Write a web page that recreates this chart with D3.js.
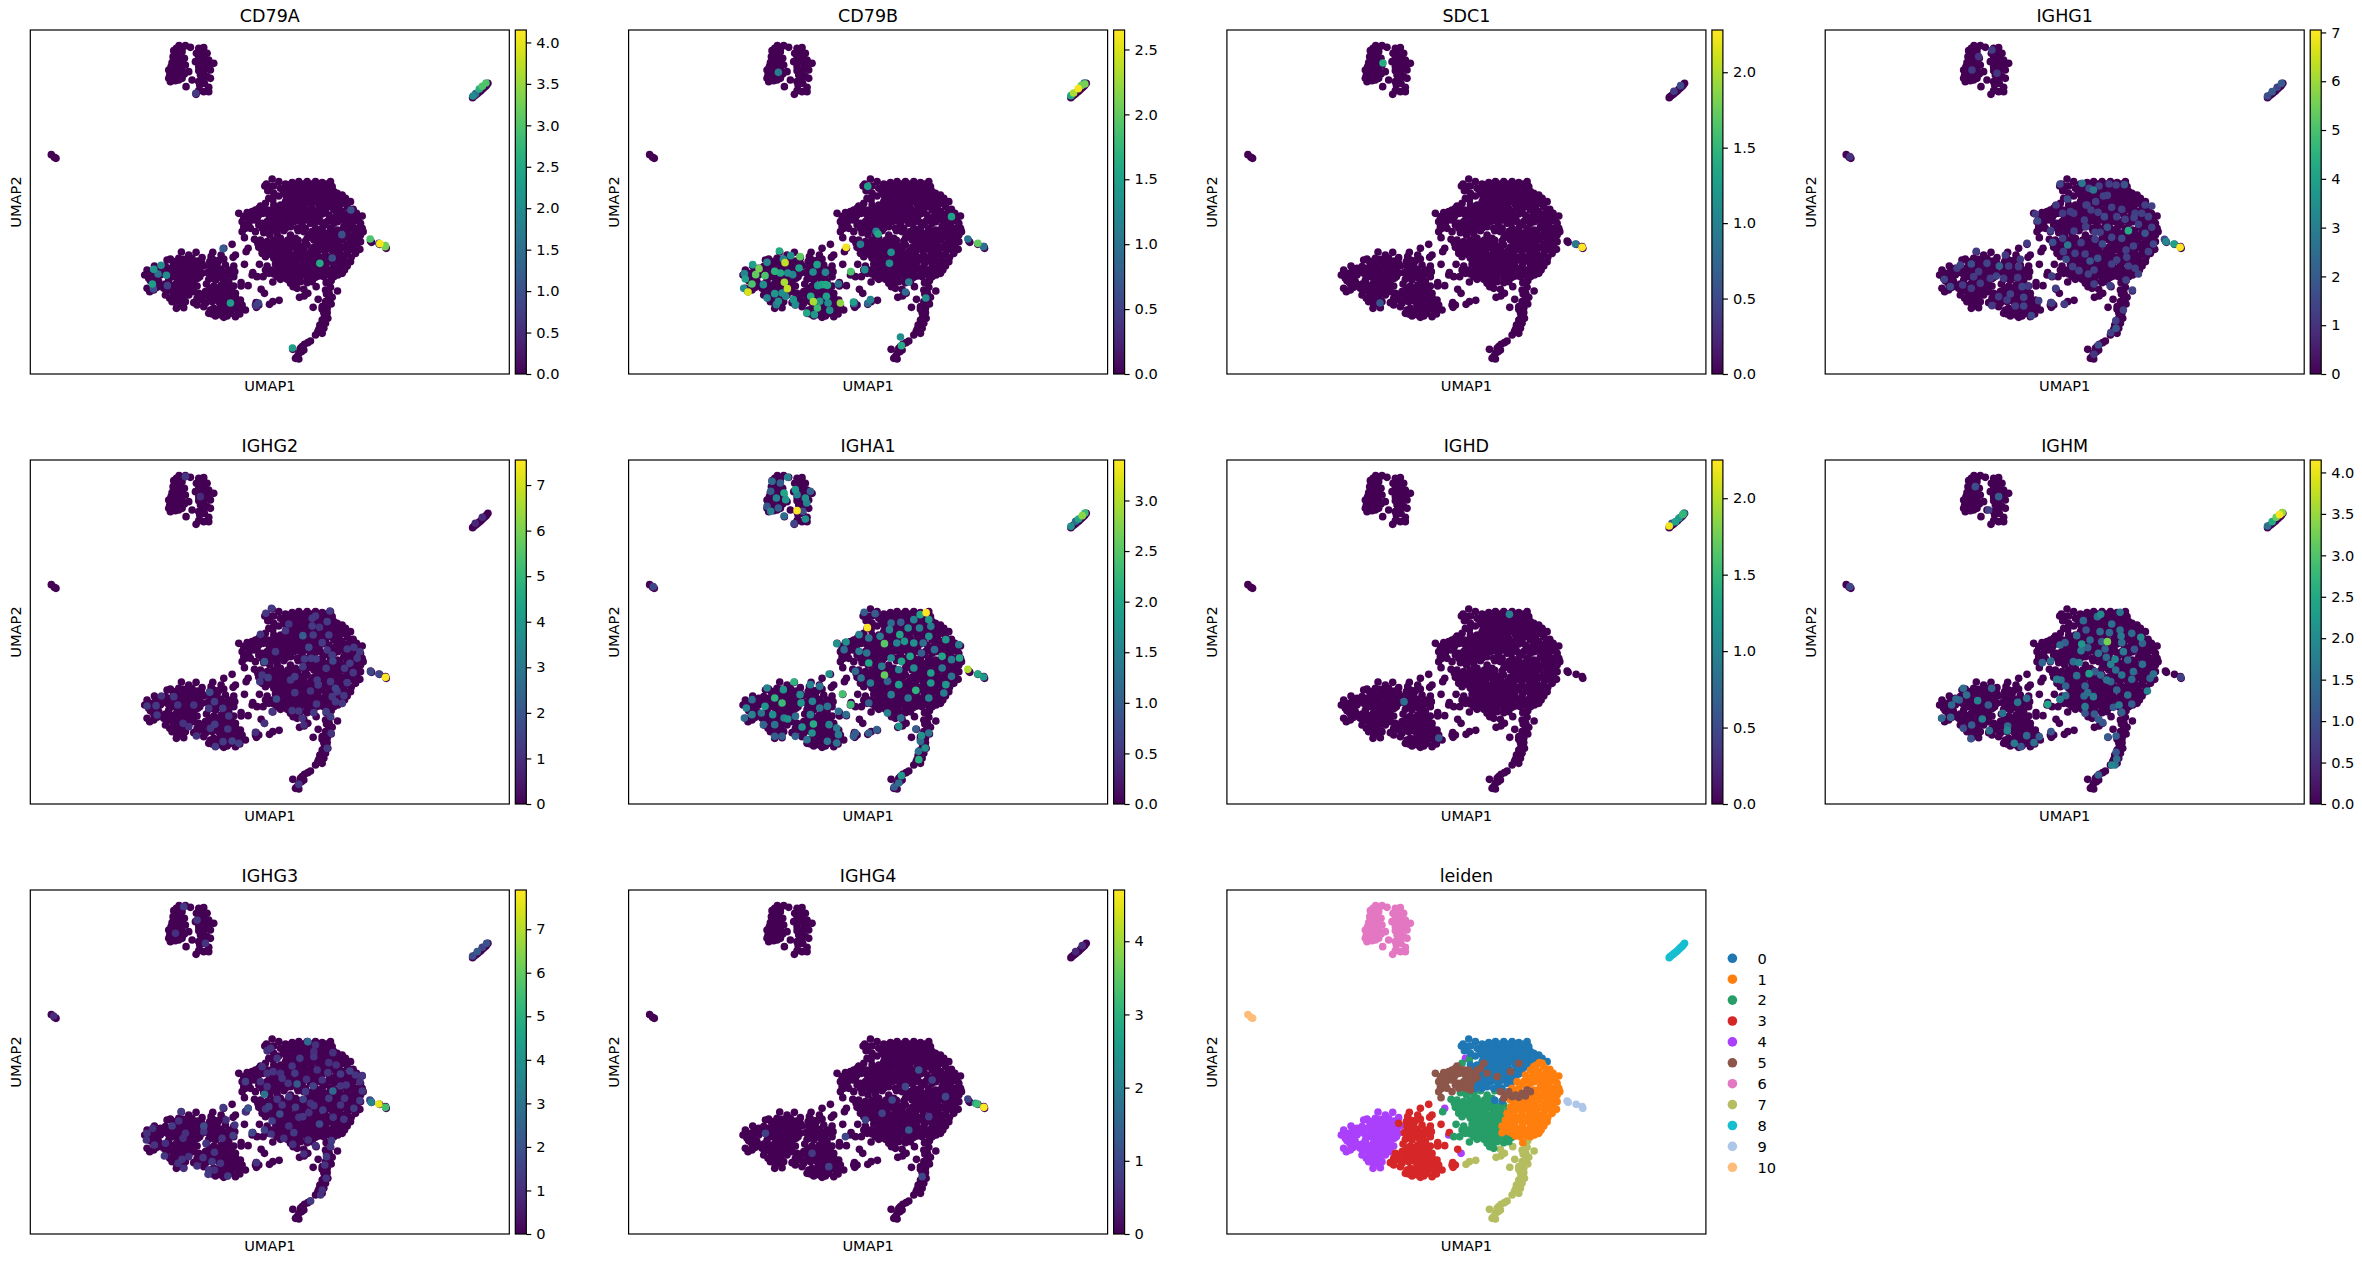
<!DOCTYPE html>
<html>
<head>
<meta charset="utf-8">
<script src="https://d3js.org/d3.v7.min.js"></script>
<style>
    body { margin: 0; background: #fff; }
    text { font-family: "DejaVu Sans", sans-serif; fill: #000; }
</style>
</head>
<body>
<script>
// umap positions, one array per cluster
var cluster0 = [[415,57],[398,72],[435,65],[393,78],[410,80],[420,78],[402,92],[420,100],[455,72],[475,68],[495,65],[520,65],[545,65],[565,68],[590,65],[440,85],[460,85],[480,82],[500,80],[525,80],[550,82],[575,80],[595,80],[450,100],[470,100],[490,98],[510,98],[530,98],[555,98],[580,98],[600,95],[625,105],[635,115],[650,125],[435,108],[465,118],[485,115],[505,115],[525,115],[545,115],[570,112],[590,112],[615,115],[440,135],[470,135],[490,135],[510,135],[530,132],[555,135],[580,135],[595,125],[450,150],[475,150],[500,150],[525,150],[545,155],[575,150],[440,165],[455,170],[500,170],[530,170],[555,172],[445,195],[460,190],[480,185],[530,190],[493,241],[515,243],[420,135],
    [465,75],[485,72],[508,72],[533,72],[555,72],[578,72],[450,92],[470,92],[492,90],[515,90],[540,90],[565,90],[590,90],[610,100],[458,110],[478,108],[498,106],[518,106],[540,106],[562,105],[585,105],[605,108],[630,122],[455,125],[478,125],[498,125],[518,125],[540,125],[560,122],[580,122],[605,130],[430,148],[460,145],[485,145],[510,145],[535,145],[560,145],[590,140],[465,162],[485,165],[515,162],[540,165],[565,162],[450,180],[470,175],[515,180],[545,185],[505,195],
    [470,200],[490,205],[455,205],[435,205],[515,205],[480,170],[480,178],[495,183],[430,190]];
var cluster1 = [[627,128],[610,140],[640,140],[658,148],[600,150],[625,155],[645,160],[668,160],[685,168],[585,165],[605,170],[560,185],[580,185],[600,190],[622,178],[645,180],[665,182],[680,190],[545,205],[565,205],[610,210],[590,205],[630,200],[650,200],[670,205],[685,205],[688,215],[555,220],[575,225],[600,225],[620,222],[640,222],[660,225],[680,225],[540,240],[560,240],[580,245],[605,245],[625,240],[650,242],[670,240],[680,245],[540,262],[560,262],[585,265],[605,262],[630,262],[650,262],[670,262],[678,268],[530,280],[550,285],[575,285],[600,282],[620,282],[640,282],[665,280],[525,300],[545,302],[565,300],[590,302],[610,302],[630,300],[650,305],[515,318],[535,320],[555,322],[575,318],[600,320],[620,320],[640,318],[515,338],[535,335],[555,348],[575,338],[600,338],[625,340],[577,368],[600,350],[545,340],
    [618,135],[635,130],[650,152],[615,160],[635,170],[655,170],[675,172],[595,178],[612,185],[635,190],[655,190],[572,195],[597,215],[618,212],[640,210],[660,212],[680,215],[548,222],[565,232],[590,235],[612,232],[632,232],[655,235],[550,250],[570,252],[592,255],[615,252],[640,252],[660,252],[552,272],[572,272],[595,272],[618,272],[642,272],[660,270],[540,292],[562,292],[585,292],[608,292],[630,290],[652,292],[530,310],[552,310],[578,310],[600,310],[622,310],[642,308],[525,328],[545,330],[565,330],[588,330],[610,330],[632,330],[570,350],[590,348],[612,345]];
var cluster2 = [[417,119],[395,130],[337,275],[362,238],[390,218],[408,225],[430,222],[450,212],[470,225],[493,212],[380,240],[400,245],[420,240],[440,235],[462,240],[485,235],[375,262],[395,262],[415,258],[435,255],[455,258],[475,255],[500,258],[520,255],[385,280],[405,280],[425,275],[445,272],[465,275],[490,275],[510,275],[531,274],[420,295],[440,292],[460,292],[480,295],[505,295],[517,290],[377,313],[425,312],[445,312],[470,312],[490,312],[510,312],[395,330],[415,330],[435,330],[455,325],[480,330],[500,335],[370,350],[388,350],[430,350],[450,345],[470,350],[490,350],[417,366],[470,370],[485,375],[500,365],[520,368],[535,365],[530,345],[545,352],[490,385],
    [372,250],[390,252],[410,250],[430,245],[450,248],[470,245],[490,248],[510,265],[385,270],[405,270],[425,265],[445,262],[465,265],[485,265],[395,290],[415,285],[435,283],[455,283],[475,285],[495,285],[430,303],[450,302],[470,302],[490,302],[435,320],[455,315],[475,320],[495,322],[512,325],[405,340],[420,342],[445,338],[465,338],[485,340],[500,348],[440,358],[460,358],[480,360],[400,318],[478,380],[520,355]];
var cluster3 = [[295,253],[270,265],[237,277],[232,290],[262,285],[270,297],[305,285],[298,292],[228,305],[205,310],[275,315],[250,312],[230,320],[300,318],[332,313],[245,325],[262,328],[285,330],[303,335],[222,338],[240,345],[280,345],[300,350],[225,358],[218,372],[245,360],[265,355],[285,365],[240,378],[262,375],[280,382],[300,378],[322,368],[322,378],[343,377],[357,338],[195,400],[215,395],[235,395],[255,392],[275,400],[295,395],[382,388],[180,428],[190,435],[205,420],[225,412],[245,412],[265,415],[285,415],[305,412],[320,420],[367,428],[365,435],[375,435],[368,442],[210,440],[225,460],[240,445],[260,438],[280,435],[300,430],[335,450],[320,445],[245,468],[270,472],[255,458],[290,460],[305,470],[318,462],[300,445],[280,455],
    [240,300],[255,302],[238,312],[290,340],[250,335],[270,338],[235,335],[232,352],[255,345],[272,365],[228,385],[250,385],[270,388],[290,385],[205,405],[225,402],[245,402],[265,405],[285,405],[305,400],[190,415],[215,430],[235,425],[255,425],[275,425],[295,420],[310,430],[230,450],[250,450],[270,448],[290,445],[235,462],[262,465],[280,468],[310,450],[325,435]];
var cluster4 = [[143,276],[187,277],[165,285],[205,293],[110,297],[100,300],[125,305],[150,298],[175,295],[192,303],[62,318],[80,325],[40,330],[33,345],[50,340],[65,335],[95,320],[120,318],[140,315],[160,310],[180,318],[200,320],[210,318],[45,355],[60,352],[80,345],[100,340],[125,335],[148,330],[170,335],[190,338],[205,340],[58,368],[75,365],[95,372],[115,350],[130,352],[150,350],[170,352],[192,355],[40,385],[48,395],[70,382],[90,385],[110,375],[128,370],[150,368],[170,370],[190,378],[95,405],[108,415],[125,395],[145,390],[165,388],[180,395],[125,415],[145,412],[165,405],[130,435],[128,445],[150,443],[140,428],[155,425],[405,115],[343,265],[392,400],[355,345],
    [118,305],[135,295],[160,298],[180,305],[72,328],[108,325],[130,325],[152,322],[170,322],[190,328],[55,345],[88,335],[112,335],[138,342],[158,342],[178,345],[198,350],[40,345],[50,362],[70,355],[105,360],[140,360],[160,360],[180,362],[62,378],[80,375],[118,385],[138,380],[158,378],[178,385],[60,390],[100,392],[118,400],[135,405],[155,400],[115,425],[132,420]];
var cluster5 = [[380,138],[395,150],[405,165],[315,160],[340,158],[355,165],[325,185],[345,175],[370,175],[385,190],[415,150],[435,160],[428,180],[410,180],[335,205],[365,215],[332,233],[392,195],[420,195],[440,150],[470,160],[460,130],[500,170],[510,215],[525,225],[545,230],[565,232],[585,228],[600,215],[590,210],[540,155],[565,130],[535,215],[520,235],[345,190],[330,200],[375,145],
    [388,160],[375,165],[402,150],[425,170],[440,172],[330,170],[362,180],[375,195],[400,185],[415,165],[450,145],[530,222],[555,225],[575,220],[355,155],[378,155],[365,150],[325,215],[350,205],[405,205],[385,205],[420,210],[415,195]];
var cluster6 = [[136,-343],[155,-343],[170,-338],[120,-328],[145,-325],[118,-310],[135,-315],[152,-305],[115,-292],[135,-295],[155,-285],[105,-270],[125,-275],[145,-270],[165,-265],[108,-255],[130,-255],[145,-245],[110,-235],[125,-238],[175,-240],[157,-220],[195,-335],[210,-337],[188,-320],[220,-320],[185,-295],[205,-295],[225,-300],[240,-290],[195,-280],[215,-275],[230,-270],[200,-255],[220,-250],[230,-245],[195,-235],[212,-230],[225,-218],[210,-205],[195,-208],[187,-197],[225,-205],
    [128,-335],[145,-335],[128,-320],[125,-302],[145,-295],[112,-280],[130,-285],[145,-282],[115,-262],[135,-265],[152,-258],[118,-245],[105,-245],[135,-240],[200,-325],[210,-310],[195,-310],[215,-290],[195,-268],[210,-262],[225,-285],[208,-245],[198,-225]];
var cluster7 = [[407,433],[417,425],[436,421],[497,412],[510,388],[522,400],[511,408],[547,380],[592,362],[590,382],[611,393],[575,390],[553,418],[538,442],[585,410],[595,412],[575,425],[592,432],[565,440],[580,445],[570,458],[582,475],[565,480],[575,490],[558,495],[570,505],[552,515],[565,520],[545,525],[530,543],[512,553],[500,565],[477,568],[510,570],[495,580],[485,595],[495,597],
    [578,402],[565,448],[572,470],[570,478],[580,458],[562,510],[555,508],[522,548],[505,560],[490,590],[503,575],[586,400],[585,420],[575,435]];
var cluster8 = [[1016,-187],[1020,-191],[1025,-195],[1030,-199],[1035,-203],[1040,-207],[1045,-212],[1050,-217],[1055,-221],[1058,-225],[1062,-230]];
var cluster9 = [[710,243],[713,247],[737,253],[755,260],[757,265]];
var cluster10 = [[-247,-16],[-238,-8],[-233,-5]];

var leidenLabels = ["0","1","2","3","4","5","6","7","8","9","10"];
var leidenColors = ["#1f77b4","#ff7f0e","#279e68","#d62728","#aa40fc","#8c564b","#e377c2","#b5bd61","#17becf","#aec7e8","#ffbb78"];

var geneNames = ["CD79A","CD79B","SDC1","IGHG1","IGHG2","IGHA1","IGHD","IGHM","IGHG3","IGHG4"];
var geneMax = [4.15,2.65,2.28,7.05,7.55,3.4,2.25,4.15,7.9,4.7];
var geneTicks = [
    [0,0.5,1,1.5,2,2.5,3,3.5,4],
    [0,0.5,1,1.5,2,2.5],
    [0,0.5,1,1.5,2],
    [0,1,2,3,4,5,6,7],
    [0,1,2,3,4,5,6,7],
    [0,0.5,1,1.5,2,2.5,3],
    [0,0.5,1,1.5,2],
    [0,0.5,1,1.5,2,2.5,3,3.5,4],
    [0,1,2,3,4,5,6,7],
    [0,1,2,3,4]
];

// cells with non zero expression per gene: x, y, value
var exprCD79A = [[186,-200,0.7],[651,150,1.0],[624,224,1.0],[595,294,1.0],[558,310,2.5],[268,266,1.2],[60,328,2.2],[82,316,2.0],[73,342,1.5],[98,346,2.0],[56,372,2.3],[59,387,1.0],[101,377,0.8],[290,429,2.3],[367,437,0.7],[374,429,0.8],[476,564,2.3],[709,237,3.0],[735,250,0.8],[738,251,4.1],[754,260,3.3],[754,257,3.2],[1017,-192,2.0],[1025,-199,1.5],[1036,-213,2.6],[1045,-221,3.0],[1056,-231,3.0]];
var exprCD79B = [[139,-263,1.1],[407,79,1.5],[658,170,1.5],[432,214,1.2],[438,222,1.6],[385,253,1.1],[477,277,1.3],[472,310,1.3],[707,237,1.0],[737,250,2.0],[754,260,1.0],[342,262,2.6],[530,366,1.1],[520,396,0.9],[581,414,1.3],[398,329,1.3],[356,335,1.9],[319,372,1.0],[508,557,1.6],[505,531,1.3],[364,426,1.5],[366,431,0.8],[407,430,0.9],[415,419,1.2],[142,273,1.6],[204,290,2.0],[176,287,1.3],[154,297,1.2],[105,307,1.2],[159,308,2.4],[201,324,1.5],[255,314,1.5],[62,314,1.5],[81,326,2.1],[71,344,2.0],[99,347,1.9],[128,334,1.7],[37,341,1.2],[40,357,1.5],[60,372,1.9],[35,385,1.3],[48,396,2.5],[94,374,1.3],[128,401,1.4],[157,367,2.3],[166,386,2.4],[145,339,1.6],[167,339,1.3],[182,344,1.2],[105,414,1.2],[150,399,1.3],[161,409,1.2],[133,434,1.1],[139,424,1.3],[184,419,1.4],[190,434,1.3],[224,459,1.6],[247,464,1.4],[244,425,2.3],[236,409,1.6],[256,444,1.8],[263,424,1.4],[283,409,1.5],[293,451,1.3],[288,429,1.3],[325,429,2.2],[280,374,1.6],[269,374,1.5],[257,377,1.4],[286,376,1.6],[280,337,1.2],[243,336,1.3],[1016,-193,1.6],[1024,-201,2.3],[1038,-214,2.6],[1047,-223,2.1],[1056,-231,1.1],[1058,-228,2.1]];
var exprSDC1 = [[158,-291,1.4],[149,429,0.6],[735,252,0.9],[755,262,2.3],[1030,-206,0.4],[1050,-223,0.5]];
var exprIGHG1 = [[394,72,1.5],[460,70,2.8],[494,90,2.8],[481,85,1.6],[511,78,1.3],[541,72,1.3],[562,75,1.3],[587,74,1.8],[416,117,1.6],[524,108,1.3],[536,106,1.3],[501,125,1.3],[472,135,1.3],[487,150,1.3],[508,157,1.3],[527,170,1.5],[549,142,1.3],[579,148,1.3],[619,160,1.3],[639,160,1.3],[649,135,1.3],[669,138,1.3],[659,170,1.4],[629,193,1.3],[616,173,1.4],[589,178,1.3],[564,170,1.3],[599,212,4.3],[649,220,1.8],[669,202,1.3],[674,252,1.5],[659,275,1.3],[614,258,1.4],[579,235,1.5],[549,232,1.4],[536,202,1.7],[514,217,1.3],[499,217,1.3],[499,238,1.3],[521,252,1.6],[467,180,1.3],[471,200,1.3],[436,213,1.3],[417,255,2.8],[402,235,1.3],[372,247,1.7],[366,212,1.3],[404,275,1.3],[457,248,1.3],[439,280,1.3],[469,282,1.3],[412,298,1.7],[484,303,1.8],[507,295,1.7],[564,300,1.3],[549,312,1.3],[592,270,1.3],[594,292,1.3],[599,318,1.3],[619,325,1.3],[629,342,1.3],[432,320,1.3],[451,332,1.3],[479,342,1.3],[496,330,1.3],[544,377,1.3],[592,360,1.3],[611,390,1.3],[496,372,1.3],[369,348,1.3],[381,385,1.3],[367,428,1.3],[407,432,1.3],[584,450,1.3],[561,482,1.3],[562,505,1.8],[546,518,1.3],[509,555,1.6],[496,583,1.1],[707,238,1.5],[712,245,3.3],[736,252,4.0],[754,262,7.0],[320,162,1.2],[327,183,1.6],[382,135,1.2],[402,160,1.2],[425,155,1.2],[435,160,1.2],[475,135,1.2],[143,274,1.2],[230,285,1.2],[175,310,1.4],[212,318,2.2],[128,312,1.7],[95,315,1.4],[85,325,1.2],[240,318,1.2],[270,320,1.2],[275,298,1.2],[150,335,1.2],[135,350,1.2],[155,370,1.2],[203,348,1.4],[225,355,1.2],[267,353,1.2],[47,358,1.4],[65,380,1.6],[128,385,1.2],[102,375,1.2],[185,355,1.2],[280,380,1.4],[298,378,1.2],[245,402,1.4],[210,410,1.2],[285,412,1.4],[235,420,1.2],[260,438,1.2],[190,437,1.2],[285,438,1.4],[308,467,1.5],[330,422,1.2],[370,430,0.9],[295,250,1.2],[130,-270,1.2],[190,-330,1.3],[205,-260,1.1],[150,-310,1.0],[-236,-10,1.0],[1016,-192,1.6],[1030,-205,2.0],[1045,-218,1.4],[1058,-230,2.0]];
var exprIGHG2 = [[396,70,1.2],[413,55,1.2],[465,102,1.1],[455,122,1.2],[545,78,1.2],[588,63,1.2],[535,85,1.2],[535,108,1.3],[580,95,1.3],[557,112,1.1],[380,133,1.1],[507,137,2.2],[538,135,1.3],[585,135,1.3],[525,172,1.6],[565,158,1.3],[580,180,1.2],[595,195,1.3],[597,213,1.6],[425,185,1.2],[392,215,2.0],[512,207,1.3],[532,205,1.3],[547,207,1.3],[577,235,1.2],[507,230,1.2],[640,177,1.2],[660,172,1.2],[678,185,1.2],[670,205,1.2],[648,220,1.3],[632,235,1.2],[658,248,1.2],[640,278,1.2],[710,245,1.6],[735,252,1.6],[755,262,7.5],[378,275,1.2],[385,255,1.2],[403,263,1.4],[470,270,1.2],[483,260,1.3],[550,270,1.2],[553,285,1.2],[483,308,1.2],[530,303,1.1],[590,275,1.2],[605,295,1.5],[610,305,1.3],[630,317,1.2],[595,320,1.2],[605,335,1.2],[625,340,1.2],[428,327,1.7],[415,365,1.2],[475,362,1.2],[495,363,1.2],[540,368,1.2],[548,342,1.2],[577,365,1.4],[590,380,1.3],[505,385,1.1],[510,405,1.0],[592,430,1.1],[580,475,1.2],[495,583,1.2],[392,400,1.1],[365,427,1.0],[228,307,1.7],[242,335,1.3],[225,355,1.2],[267,355,1.3],[285,378,1.2],[230,415,1.2],[243,403,1.3],[282,417,1.2],[268,455,1.3],[245,470,1.3],[295,453,1.5],[315,460,1.3],[188,438,1.1],[165,410,1.1],[148,400,1.1],[180,345,1.1],[132,345,1.1],[120,320,1.2],[83,318,1.1],[67,347,1.3],[40,348,1.2],[70,375,1.2],[155,-340,1.2],[200,-280,0.9],[1024,-200,0.8],[1045,-218,0.9]];
var exprIGHA1 = [[120,-326,1.2],[145,-321,1.0],[167,-338,1.5],[156,-291,2.0],[133,-276,1.5],[161,-271,1.8],[190,-301,1.8],[195,-286,1.5],[220,-276,1.7],[224,-261,1.5],[235,-296,1.0],[116,-296,1.0],[105,-251,0.9],[116,-236,1.5],[139,-246,1.0],[195,-238,3.4],[156,-222,1.2],[220,-213,1.7],[186,-199,0.7],[212,-236,0.8],[-236,-10,0.7],[1016,-191,1.7],[1030,-206,1.2],[1039,-213,2.0],[1050,-223,2.8],[1058,-231,2.3],[707,238,3.0],[737,252,2.0],[754,261,1.8],[582,68,3.4],[564,74,2.0],[590,89,1.8],[406,113,3.4],[396,67,1.0],[429,71,1.0],[545,89,1.5],[506,97,1.0],[477,99,1.2],[457,161,2.5],[314,161,1.7],[342,156,1.7],[336,179,1.2],[381,134,1.5],[410,144,1.3],[444,139,1.4],[472,119,1.5],[503,134,2.0],[528,114,1.6],[562,114,1.4],[596,109,1.4],[590,139,1.7],[573,159,1.2],[517,154,1.8],[494,159,1.5],[545,159,1.7],[641,149,1.8],[680,164,1.4],[630,199,2.0],[682,204,2.0],[658,209,1.4],[607,179,1.2],[568,189,1.0],[534,199,2.0],[508,214,2.0],[477,204,1.6],[449,229,1.4],[410,219,2.0],[381,184,1.4],[404,189,1.3],[457,255,2.6],[500,239,1.5],[545,234,1.6],[596,249,1.9],[630,234,1.3],[658,259,1.3],[641,284,1.8],[370,244,1.2],[387,264,1.3],[415,279,1.4],[466,274,1.1],[500,284,1.9],[551,301,2.2],[596,279,1.8],[635,309,1.4],[590,324,1.5],[477,314,1.4],[528,324,1.3],[410,339,1.0],[466,369,1.5],[506,384,1.2],[500,409,1.7],[551,417,1.0],[568,437,1.7],[590,429,1.3],[565,454,1.2],[579,474,1.7],[559,484,1.3],[560,509,2.1],[508,557,1.8],[500,579,1.2],[486,591,1.0],[291,252,1.7],[331,312,2.4],[356,344,2.3],[342,374,1.2],[370,429,1.0],[364,439,1.0],[410,429,1.0],[434,419,1.0],[186,276,2.2],[105,294,1.5],[154,299,1.8],[235,284,1.5],[263,289,1.3],[204,314,1.6],[128,324,2.2],[150,339,2.3],[99,349,1.8],[60,329,1.2],[43,354,1.5],[37,384,1.2],[60,374,1.5],[88,369,1.3],[122,374,1.7],[167,387,1.7],[190,379,1.2],[207,339,1.8],[241,334,1.5],[263,354,1.3],[286,349,1.3],[319,364,1.2],[94,404,1.1],[128,404,1.3],[156,384,1.5],[210,411,1.7],[244,402,2.1],[235,374,1.5],[291,404,1.5],[314,414,1.4],[319,434,1.4],[240,429,1.7],[225,449,1.3],[128,439,1.0],[150,439,1.0],[190,439,1.1],[314,459,1.3],[286,454,1.3]];
var exprIGHD = [[537,73,1.0],[325,444,0.6],[221,335,0.8],[1016,-192,2.2],[1024,-200,0.6],[1035,-205,1.3],[1045,-215,1.2],[1056,-226,1.5],[1060,-230,1.3]];
var exprIGHM = [[516,73,2.0],[506,80,1.5],[574,67,1.6],[464,92,1.4],[472,120,1.1],[549,102,1.5],[514,125,1.4],[542,128,1.4],[574,120,1.5],[536,155,3.3],[577,138,1.7],[609,130,1.4],[636,142,1.9],[641,160,1.3],[579,158,1.5],[529,177,1.3],[617,178,1.1],[484,150,1.4],[444,137,1.4],[477,173,1.3],[459,162,2.2],[457,182,1.7],[394,165,1.5],[409,158,1.2],[519,155,1.3],[509,190,1.5],[533,202,1.4],[559,208,1.9],[546,223,1.8],[584,185,1.7],[597,210,1.3],[641,223,1.5],[451,218,1.8],[434,215,1.5],[366,213,1.5],[341,218,1.3],[481,251,2.3],[561,240,1.5],[579,255,1.6],[614,245,1.5],[609,268,1.4],[674,252,1.5],[664,265,1.3],[499,245,1.2],[516,255,1.4],[444,257,1.5],[384,268,1.7],[397,270,1.6],[411,288,1.3],[534,270,1.6],[546,275,1.3],[564,300,1.3],[597,315,1.5],[656,303,1.8],[609,342,1.2],[469,288,1.3],[477,308,1.5],[466,318,1.4],[494,320,1.7],[411,317,1.5],[394,328,1.8],[357,343,2.4],[469,350,1.7],[469,370,1.1],[497,372,1.2],[509,388,1.2],[522,398,1.1],[554,352,1.2],[571,345,1.7],[579,367,1.3],[756,262,0.8],[367,425,1.1],[537,441,1.2],[562,438,1.2],[562,487,1.1],[564,507,1.5],[549,525,1.9],[559,525,1.6],[509,555,1.3],[104,295,1.5],[114,315,1.5],[189,295,1.3],[82,327,1.4],[92,330,1.2],[69,345,1.4],[147,332,1.8],[179,345,1.2],[39,385,1.4],[66,382,1.3],[161,387,1.8],[222,370,1.6],[294,325,1.5],[267,337,1.6],[129,405,1.2],[104,415,1.0],[127,446,1.1],[182,422,1.5],[237,408,1.4],[236,422,1.9],[294,437,1.4],[332,440,1.2],[316,458,1.5],[257,460,1.7],[277,470,1.1],[140,-310,1.0],[210,-280,1.2],[180,-240,0.8],[-236,-10,0.9],[1016,-192,1.5],[1030,-205,2.5],[1042,-218,3.2],[1052,-226,4.1],[1060,-232,3.5]];
var exprIGHG3 = [[522,65,2.7],[410,85,1.2],[400,92,1.1],[430,115,1.2],[545,75,1.1],[540,95,1.1],[597,98,1.1],[498,115,1.3],[540,110,1.2],[585,128,1.1],[607,135,1.1],[550,150,1.1],[475,138,1.2],[385,140,1.1],[483,160,1.3],[440,160,1.1],[400,160,1.1],[418,155,1.2],[582,158,1.2],[620,162,1.3],[648,153,1.5],[665,165,1.2],[685,167,1.2],[678,185,1.1],[637,195,1.2],[620,198,1.2],[685,213,1.2],[490,192,2.2],[538,198,1.6],[597,213,2.7],[565,180,1.2],[518,178,1.1],[445,175,1.2],[463,190,1.2],[400,200,1.1],[380,185,1.1],[335,185,1.4],[515,215,1.3],[392,223,3.0],[465,230,1.2],[508,238,1.5],[430,238,1.2],[445,255,1.2],[485,262,1.3],[530,250,1.1],[540,257,1.2],[567,270,1.3],[525,278,1.1],[585,235,1.3],[620,255,1.2],[632,235,1.2],[660,265,1.3],[678,242,1.3],[630,298,1.2],[598,292,1.2],[395,267,1.2],[405,260,1.4],[438,282,1.8],[343,265,2.0],[335,275,1.1],[415,303,1.5],[507,290,1.2],[557,312,1.7],[495,292,1.1],[465,318,1.1],[480,338,1.3],[450,355,1.1],[412,342,1.2],[392,330,1.5],[355,338,1.7],[477,373,1.1],[545,377,1.1],[593,362,1.3],[590,380,1.2],[523,360,1.1],[510,402,1.1],[708,240,1.7],[712,247,3.5],[735,252,7.6],[755,262,5.5],[578,410,1.3],[573,435,1.2],[577,475,1.1],[565,510,1.1],[560,525,1.1],[530,543,1.3],[142,275,1.3],[268,263,1.3],[277,300,1.1],[210,318,1.8],[210,335,1.2],[135,303,1.1],[115,318,1.4],[57,325,1.1],[148,355,1.1],[155,340,1.1],[217,370,1.2],[303,315,1.2],[298,347,1.4],[265,355,1.2],[62,375,1.2],[95,370,1.1],[40,340,1.1],[38,360,1.1],[92,408,1.3],[165,410,1.1],[145,418,1.2],[133,430,1.1],[190,438,1.1],[208,413,1.2],[242,397,1.2],[235,425,1.3],[260,430,1.2],[225,450,1.2],[223,463,1.3],[242,450,1.1],[282,468,1.3],[150,445,1.1],[368,428,1.2],[150,-340,1.3],[190,-300,1.2],[125,-260,1.1],[215,-230,1.2],[-240,-12,1.0],[1016,-192,1.8],[1030,-205,2.2],[1045,-218,1.6],[1058,-230,2.0]];
var exprIGHG4 = [[560,150,1.2],[520,200,1.0],[600,180,0.9],[480,240,1.0],[450,280,0.9],[640,230,1.0],[590,290,0.8],[400,300,1.0],[530,330,1.3],[340,350,1.0],[290,440,0.9],[100,340,0.9],[240,400,0.8],[570,470,1.0],[707,237,0.9],[730,250,2.5],[735,252,3.2],[755,262,4.7],[1030,-205,0.5],[1050,-223,0.6]];
var geneExpr = [exprCD79A,exprCD79B,exprSDC1,exprIGHG1,exprIGHG2,exprIGHA1,exprIGHD,exprIGHM,exprIGHG3,exprIGHG4];

var allClusters = [cluster0,cluster1,cluster2,cluster3,cluster4,cluster5,cluster6,cluster7,cluster8,cluster9,cluster10];
// order the clusters overlap in on the leiden panel
var drawOrder = [6,10,8,9,4,3,7,2,0,1,5];

var panelW = 479, panelH = 344;
var colStep = 598.3, rowStep = 430, left0 = 30.3, top0 = 30;
var dotR = 3.8;

var x = d3.scaleLinear().domain([-310,1126]).range([0,panelW]);
var y = d3.scaleLinear().domain([-390,642]).range([0,panelH]);

var svg = d3.select("body").append("svg")
    .attr("width",2362).attr("height",1264)
    .style("display","block");

// viridis gradient for the colorbars
var grad = svg.append("defs").append("linearGradient")
    .attr("id","viridis")
    .attr("x1",0).attr("y1",1).attr("x2",0).attr("y2",0);
d3.range(0,33).forEach(function(i){
    grad.append("stop").attr("offset",(i/32*100)+"%").attr("stop-color",d3.interpolateViridis(i/32));
});

function panel(i,title){
    var g = svg.append("g")
        .attr("transform","translate("+(left0+colStep*(i%4))+","+(top0+rowStep*Math.floor(i/4))+")");
    g.append("text").attr("x",panelW/2).attr("y",-8).attr("text-anchor","middle")
        .style("font-size","17.5px").text(title);
    g.append("text").attr("x",panelW/2).attr("y",361).attr("text-anchor","middle")
        .style("font-size","14.6px").text("UMAP1");
    g.append("text").attr("transform","translate(-9.5,"+(panelH/2)+") rotate(-90)").attr("text-anchor","middle")
        .style("font-size","14.6px").text("UMAP2");
    return g;
}

function frame(g){
    g.append("rect").attr("width",panelW).attr("height",panelH)
        .attr("fill","none").attr("stroke","#000").attr("stroke-width",1.2);
}

// all cells, flat, for the gene panels
var allCells = [];
drawOrder.forEach(function(c){ allClusters[c].forEach(function(p){ allCells.push(p); }); });

geneNames.forEach(function(name,i){
    var g = panel(i,name);
    var color = d3.scaleSequential(d3.interpolateViridis).domain([0,geneMax[i]]);

    g.append("g").selectAll("circle").data(allCells).enter().append("circle")
        .attr("cx",function(d){return x(d[0]);})
        .attr("cy",function(d){return y(d[1]);})
        .attr("r",dotR)
        .attr("fill",color(0));

    // highest values end up on top
    var sorted = geneExpr[i].slice().sort(function(a,b){return a[2]-b[2];});
    g.append("g").selectAll("circle").data(sorted).enter().append("circle")
        .attr("cx",function(d){return x(d[0]);})
        .attr("cy",function(d){return y(d[1]);})
        .attr("r",dotR)
        .attr("fill",function(d){return color(d[2]);});

    frame(g);

    // colorbar
    var bar = g.append("g").attr("transform","translate("+(panelW+6)+",0)");
    bar.append("rect").attr("width",11).attr("height",panelH).attr("fill","url(#viridis)");
    var cy = d3.scaleLinear().domain([0,geneMax[i]]).range([panelH,0]);
    var isInt = geneTicks[i].every(function(t){return t===Math.round(t);});
    var ax = d3.axisRight(cy).tickValues(geneTicks[i]).tickSize(5).tickPadding(5)
        .tickFormat(d3.format(isInt ? "d" : ".1f"));
    var axG = bar.append("g").attr("transform","translate(11,0)").call(ax);
    axG.select(".domain").remove();
    axG.selectAll("line").attr("stroke","#000").attr("stroke-width",1.2);
    axG.selectAll("text").style("font-size","14.6px");
    bar.append("rect").attr("width",11).attr("height",panelH)
        .attr("fill","none").attr("stroke","#000").attr("stroke-width",1.2);
});

// leiden panel with its legend
var lg = panel(10,"leiden");
drawOrder.forEach(function(c){
    lg.append("g").selectAll("circle").data(allClusters[c]).enter().append("circle")
        .attr("cx",function(d){return x(d[0]);})
        .attr("cy",function(d){return y(d[1]);})
        .attr("r",dotR)
        .attr("fill",leidenColors[c]);
});
frame(lg);

var legend = lg.append("g").selectAll("g").data(leidenLabels).enter().append("g")
    .attr("transform",function(d,i){return "translate(505.5,"+(68.3+i*20.9)+")";});
legend.append("circle").attr("r",4.8).attr("fill",function(d,i){return leidenColors[i];});
legend.append("text").attr("x",25).attr("y",5.3).style("font-size","14.6px").text(function(d){return d;});
</script>
</body>
</html>
